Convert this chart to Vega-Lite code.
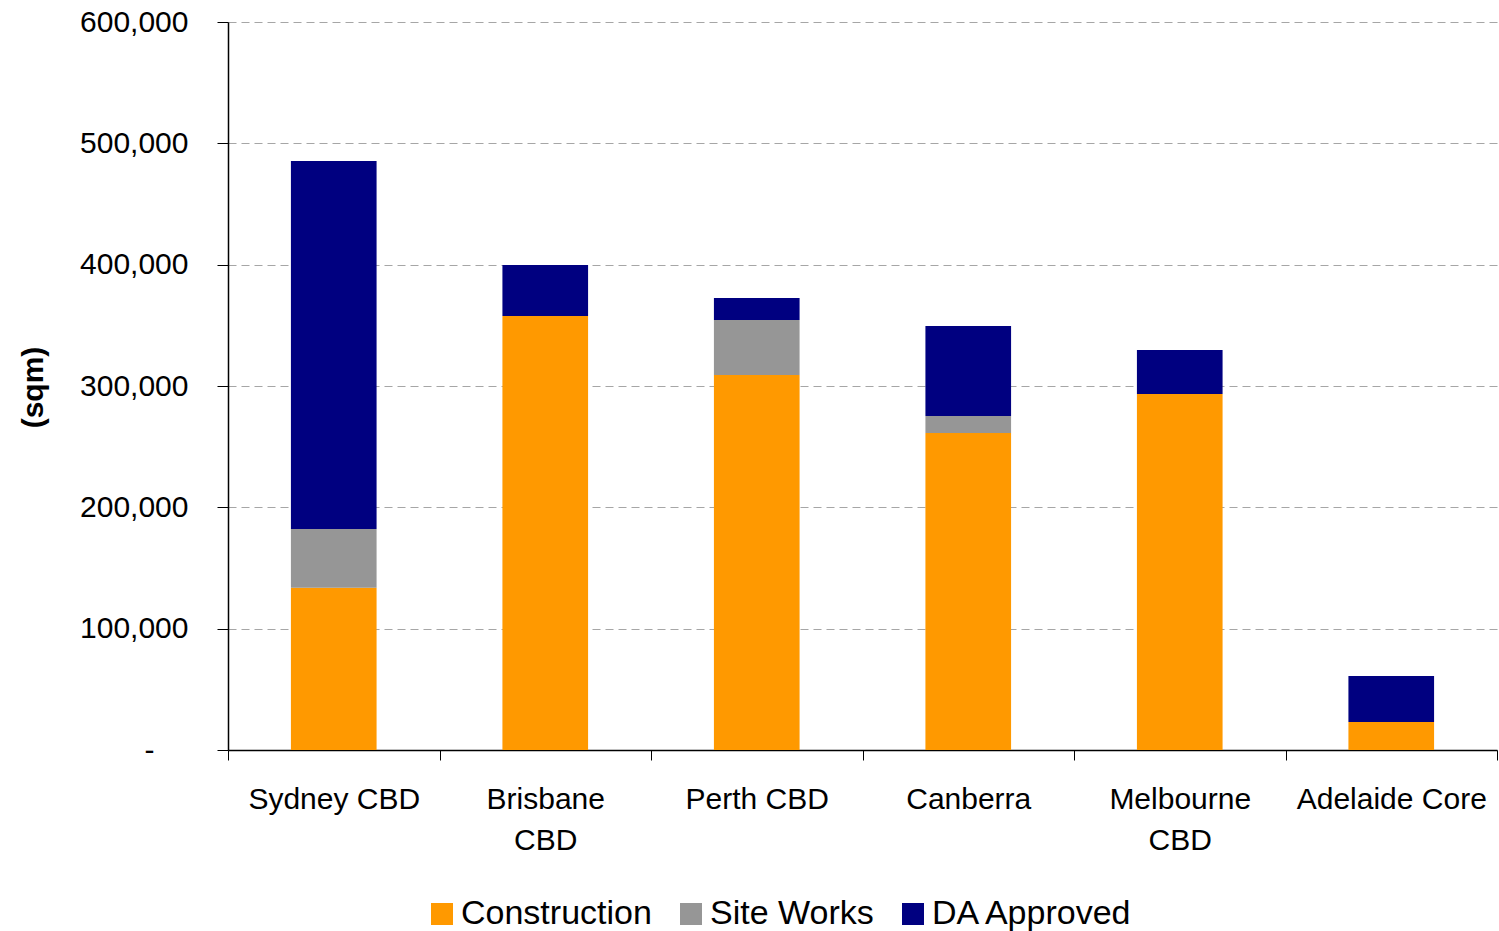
{
  "$schema": "https://vega.github.io/schema/vega-lite/v6.json",
  "width": 1269,
  "height": 728,
  "autosize": "none",
  "padding": {"left": 228, "top": 22, "right": 2, "bottom": 181},
  "background": "white",
  "config": {
    "font": "Liberation Sans",
    "view": {"stroke": null}
  },
  "data": {
    "values": [
      {"region": "Sydney CBD", "stage": "Construction", "ord": 1, "sqm": 133800},
      {"region": "Sydney CBD", "stage": "Site Works", "ord": 2, "sqm": 48300},
      {"region": "Sydney CBD", "stage": "DA Approved", "ord": 3, "sqm": 303300},
      {"region": "Brisbane CBD", "stage": "Construction", "ord": 1, "sqm": 357700},
      {"region": "Brisbane CBD", "stage": "Site Works", "ord": 2, "sqm": 0},
      {"region": "Brisbane CBD", "stage": "DA Approved", "ord": 3, "sqm": 42000},
      {"region": "Perth CBD", "stage": "Construction", "ord": 1, "sqm": 309100},
      {"region": "Perth CBD", "stage": "Site Works", "ord": 2, "sqm": 45300},
      {"region": "Perth CBD", "stage": "DA Approved", "ord": 3, "sqm": 18100},
      {"region": "Canberra", "stage": "Construction", "ord": 1, "sqm": 261300},
      {"region": "Canberra", "stage": "Site Works", "ord": 2, "sqm": 14000},
      {"region": "Canberra", "stage": "DA Approved", "ord": 3, "sqm": 74200},
      {"region": "Melbourne CBD", "stage": "Construction", "ord": 1, "sqm": 293400},
      {"region": "Melbourne CBD", "stage": "Site Works", "ord": 2, "sqm": 0},
      {"region": "Melbourne CBD", "stage": "DA Approved", "ord": 3, "sqm": 36300},
      {"region": "Adelaide Core", "stage": "Construction", "ord": 1, "sqm": 23100},
      {"region": "Adelaide Core", "stage": "Site Works", "ord": 2, "sqm": 0},
      {"region": "Adelaide Core", "stage": "DA Approved", "ord": 3, "sqm": 37900}
    ]
  },
  "mark": {"type": "bar", "width": {"band": 0.405}},
  "encoding": {
    "x": {
      "field": "region",
      "type": "nominal",
      "sort": null,
      "scale": {"paddingInner": 0, "paddingOuter": 0},
      "axis": {
        "title": null,
        "labelAngle": 0,
        "labelFont": "Liberation Sans",
        "labelFontSize": 30,
        "labelColor": "#000000",
        "labelPadding": 24,
        "labelLineHeight": 41,
        "labelLimit": 400,
        "labelExpr": "datum.value == 'Brisbane CBD' ? ['Brisbane', 'CBD'] : datum.value == 'Melbourne CBD' ? ['Melbourne', 'CBD'] : datum.value",
        "tickBand": "extent",
        "tickSize": 10,
        "tickColor": "#000000",
        "domainColor": "#000000",
        "domainWidth": 1.5,
        "grid": false
      }
    },
    "y": {
      "field": "sqm",
      "type": "quantitative",
      "stack": "zero",
      "scale": {"domain": [0, 600000], "nice": false},
      "axis": {
        "title": "(sqm)",
        "titleFont": "Liberation Sans",
        "titleFontSize": 30,
        "titleFontWeight": "bold",
        "titleColor": "#000000",
        "titleAngle": -90,
        "titleX": -195,
        "titleY": 365,
        "titleAlign": "center",
        "titleBaseline": "middle",
        "values": [0, 100000, 200000, 300000, 400000, 500000, 600000],
        "labelExpr": "datum.value == 0 ? '-' : format(datum.value, ',')",
        "labelFont": "Liberation Sans",
        "labelFontSize": 30,
        "labelColor": "#000000",
        "labelPadding": {"condition": {"test": "datum.value == 0", "value": 63}, "value": 29},
        "tickSize": 11,
        "tickColor": "#000000",
        "domainColor": "#000000",
        "domainWidth": 1.5,
        "grid": true,
        "gridColor": "#a6a6a6",
        "gridDash": [8, 5],
        "gridWidth": 1.2
      }
    },
    "color": {
      "field": "stage",
      "type": "nominal",
      "scale": {
        "domain": ["Construction", "Site Works", "DA Approved"],
        "range": ["#FF9900", "#969696", "#000080"]
      },
      "legend": {
        "title": null,
        "orient": "none",
        "direction": "horizontal",
        "legendX": 197,
        "legendY": 875,
        "symbolType": "square",
        "symbolSize": 484,
        "symbolStrokeWidth": 0,
        "symbolOpacity": 1,
        "labelFont": "Liberation Sans",
        "labelFontSize": 34,
        "labelColor": "#000000",
        "labelOffset": 2,
        "columnPadding": 22,
        "labelLimit": 400
      }
    },
    "order": {"field": "ord", "type": "quantitative"}
  }
}
